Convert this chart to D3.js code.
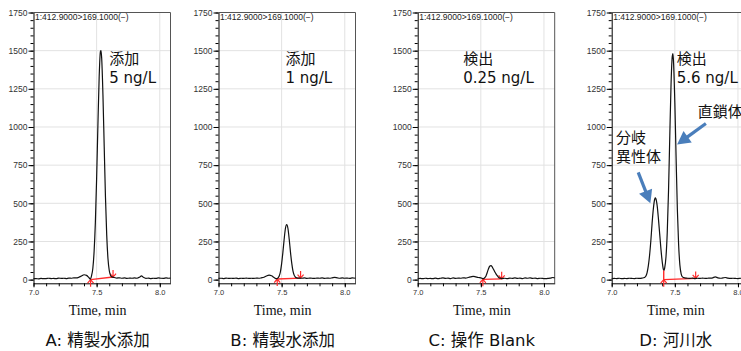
<!DOCTYPE html>
<html>
<head>
<meta charset="utf-8">
<script src="https://cdn.jsdelivr.net/npm/d3@7"></script>
<style>
  body { margin: 0; background: #fff; }
  svg { display: block; }
</style>
</head>
<body>
<div id="chart"></div>
<script>
// tick values and labels
var yTicks = [0, 250, 500, 750, 1000, 1250, 1500, 1750];
var xTicks = [7.0, 7.5, 8.0];
var headerText = "1:412.9000>169.1000(\u2212)";
var axisTitle = "Time, min";
var captions = ["A: 精製水添加", "B: 精製水添加", "C: 操作 Blank", "D: 河川水"];
var notes = [["添加", "5 ng/L"], ["添加", "1 ng/L"], ["検出", "0.25 ng/L"], ["検出", "5.6 ng/L"]];
var noteTime = [7.60, 7.53, 7.36, 7.515];

// chromatograms [time, intensity]
var traceA = [[7.00,6],[7.02,7],[7.04,5],[7.06,8],[7.08,6],[7.10,7],[7.12,9],[7.14,7],[7.16,8],[7.18,6],[7.20,10],[7.22,8],[7.24,9],[7.26,7],[7.28,10],[7.30,9],[7.32,12],[7.34,11],[7.36,16],[7.38,24],[7.40,32],[7.42,28],[7.44,12],[7.45,4],[7.46,27],[7.47,75],[7.48,185],[7.49,375],[7.50,665],[7.51,1010],[7.52,1325],[7.53,1495],[7.535,1500],[7.54,1450],[7.55,1210],[7.56,870],[7.57,540],[7.58,290],[7.59,135],[7.60,60],[7.61,28],[7.62,18],[7.64,14],[7.66,10],[7.68,12],[7.70,9],[7.72,11],[7.74,8],[7.76,10],[7.78,9],[7.80,11],[7.82,9],[7.84,16],[7.855,25],[7.87,15],[7.89,8],[7.91,10],[7.93,7],[7.95,9],[7.97,8],[7.99,12],[8.01,9],[8.03,8],[8.05,11],[8.07,9],[8.085,10]];
var traceB = [[7.00,8],[7.02,9],[7.04,7],[7.06,10],[7.08,8],[7.10,9],[7.12,8],[7.14,10],[7.16,7],[7.18,9],[7.20,8],[7.22,10],[7.24,8],[7.26,9],[7.28,8],[7.30,10],[7.32,9],[7.34,12],[7.36,16],[7.38,24],[7.40,29],[7.42,25],[7.44,14],[7.46,6],[7.47,10],[7.48,22],[7.49,50],[7.50,105],[7.51,180],[7.52,265],[7.53,335],[7.54,360],[7.55,335],[7.56,265],[7.57,180],[7.58,108],[7.59,56],[7.60,28],[7.61,16],[7.62,12],[7.64,10],[7.66,9],[7.68,11],[7.70,8],[7.72,10],[7.74,9],[7.76,8],[7.78,10],[7.80,9],[7.82,11],[7.84,8],[7.86,10],[7.88,9],[7.90,12],[7.92,15],[7.94,12],[7.96,9],[7.98,11],[8.00,9],[8.02,10],[8.04,8],[8.06,11],[8.085,9]];
var traceC = [[7.00,6],[7.02,8],[7.04,6],[7.06,9],[7.08,7],[7.10,8],[7.12,6],[7.14,10],[7.16,7],[7.18,9],[7.20,12],[7.22,8],[7.24,10],[7.26,7],[7.28,11],[7.30,8],[7.32,10],[7.34,9],[7.36,12],[7.38,10],[7.40,14],[7.42,18],[7.44,22],[7.46,18],[7.48,14],[7.50,12],[7.52,6],[7.53,12],[7.54,22],[7.55,45],[7.56,70],[7.57,88],[7.58,92],[7.59,84],[7.60,68],[7.61,52],[7.62,38],[7.63,26],[7.64,16],[7.65,10],[7.67,7],[7.69,9],[7.71,6],[7.73,10],[7.75,8],[7.77,11],[7.79,8],[7.81,10],[7.83,7],[7.85,11],[7.87,9],[7.89,12],[7.91,8],[7.93,10],[7.95,7],[7.97,9],[7.99,8],[8.01,6],[8.03,8],[8.05,10],[8.07,14],[8.085,12]];
var traceD = [[7.00,6],[7.02,8],[7.04,7],[7.06,9],[7.08,6],[7.10,8],[7.12,7],[7.14,9],[7.16,8],[7.18,7],[7.20,9],[7.22,8],[7.24,10],[7.26,14],[7.27,22],[7.28,45],[7.29,90],[7.30,160],[7.31,255],[7.32,370],[7.33,465],[7.34,525],[7.345,535],[7.35,530],[7.36,485],[7.37,400],[7.38,300],[7.39,200],[7.40,118],[7.41,66],[7.415,62],[7.42,78],[7.43,150],[7.44,310],[7.45,580],[7.46,940],[7.47,1280],[7.48,1465],[7.485,1480],[7.49,1420],[7.50,1160],[7.51,800],[7.52,460],[7.53,230],[7.54,95],[7.55,38],[7.56,18],[7.58,11],[7.60,9],[7.62,8],[7.64,10],[7.66,7],[7.68,9],[7.70,8],[7.72,10],[7.74,8],[7.76,9],[7.78,10],[7.80,12],[7.82,18],[7.84,12],[7.86,9],[7.88,11],[7.90,14],[7.92,10],[7.94,8],[7.96,9],[7.98,8],[8.00,7],[8.02,9],[8.04,8],[8.06,10],[8.085,9]];
var traces = [traceA, traceB, traceC, traceD];

// integration baselines: [start, end]
var integA = [[7.452, 0], [7.63, 17]];
var integB = [[7.465, 4], [7.65, 10]];
var integC = [[7.516, 2], [7.665, 5]];
var integD = [[7.412, 0], [7.665, 8]];
var integs = [integA, integB, integC, integD];
var dropD = 62; // valley height for the drop line in D

// blue arrows in panel D: [tail, tip]
var arrowsD = [[[7.746, 1023], [7.518, 886]], [[7.21, 703], [7.306, 500]]];
var labelsD = [{t: 7.682, v: 1063, lines: ["直鎖体"]}, {t: 7.034, v: 892, lines: ["分岐", "異性体"]}];

var width = 741,
    height = 351,
    panelLeft = [33.5, 218.5, 417.7, 611.7],
    plotW = 137,
    yTop = 12.5,
    yBottom = 283.3;

var svg = d3.select("#chart").append("svg")
    .attr("width", width)
    .attr("height", height);

var x = d3.scaleLinear().domain([7.0, 8.085]).range([0, plotW]);
var y = d3.scaleLinear().domain([-24, 1750]).range([yBottom, yTop]);

var line = d3.line()
    .x(function (d) { return x(d[0]); })
    .y(function (d) { return y(d[1]); })
    .curve(d3.curveMonotoneX);

var sansJP = "'DejaVu Sans', 'Noto Sans CJK JP', sans-serif";
var smallFont = "'Liberation Sans', Arial, sans-serif";

traces.forEach(function (trace, i) {
    var g = svg.append("g").attr("transform", "translate(" + panelLeft[i] + ",0)");

    // grid
    g.selectAll(".hgrid").data(yTicks.slice(1, -1)).enter().append("line")
        .attr("x1", 0).attr("x2", plotW)
        .attr("y1", function (d) { return y(d); }).attr("y2", function (d) { return y(d); })
        .attr("stroke", "#e2e2e2").attr("stroke-width", 1);
    g.selectAll(".vgrid").data(xTicks.slice(1)).enter().append("line")
        .attr("x1", function (d) { return x(d); }).attr("x2", function (d) { return x(d); })
        .attr("y1", yTop).attr("y2", yBottom)
        .attr("stroke", "#e2e2e2").attr("stroke-width", 1);

    // frame top/right
    g.append("path")
        .attr("d", "M0," + yTop + "H" + plotW + "V" + yBottom)
        .attr("fill", "none").attr("stroke", "#555").attr("stroke-width", 1);

    // y axis
    var yMinor = g.append("g").call(d3.axisLeft(y)
        .tickValues(d3.range(0, 1751, 50)).tickSize(3).tickSizeOuter(0).tickFormat(""));
    yMinor.select(".domain").remove();
    var yAxis = g.append("g").call(d3.axisLeft(y)
        .tickValues(yTicks).tickSize(5).tickSizeOuter(0).tickPadding(1).tickFormat(d3.format("d")));
    yAxis.selectAll("text").attr("font-family", smallFont)
        .attr("font-size", 8.5).attr("fill", "#333");

    // x axis
    var xg = g.append("g").attr("transform", "translate(0," + yBottom + ")");
    var xMinor = xg.append("g").call(d3.axisBottom(x)
        .tickValues(d3.range(7.0, 8.05, 0.1)).tickSize(3).tickSizeOuter(0).tickFormat(""));
    xMinor.select(".domain").remove();
    var xAxis = xg.append("g").call(d3.axisBottom(x)
        .tickValues(xTicks).tickSize(4).tickSizeOuter(0).tickPadding(2).tickFormat(d3.format(".1f")));
    xAxis.selectAll("text").attr("font-family", smallFont)
        .attr("font-size", 7.5).attr("fill", "#333");

    // header
    g.append("text")
        .attr("x", 1.5).attr("y", yTop + 7.5)
        .attr("font-family", smallFont)
        .attr("font-size", 8.5).attr("fill", "#222")
        .text(headerText);

    // integration baseline
    var integ = integs[i];
    var red = "#ff2a2a";
    var p0 = [x(integ[0][0]), y(integ[0][1])],
        p1 = [x(integ[1][0]), y(integ[1][1])];
    if (i === 3) {
        g.append("line")
            .attr("x1", p0[0]).attr("x2", p0[0])
            .attr("y1", p0[1]).attr("y2", y(dropD))
            .attr("stroke", red).attr("stroke-width", 1.4);
    }
    g.append("line")
        .attr("x1", p0[0]).attr("y1", p0[1]).attr("x2", p1[0]).attr("y2", p1[1])
        .attr("stroke", red).attr("stroke-width", 1.4);
    // start marker: arrow pointing up, tip at baseline
    g.append("path")
        .attr("d", "M" + p0[0] + "," + (p0[1] + 7) + "V" + p0[1] +
            "M" + (p0[0] - 3) + "," + (p0[1] + 3.5) + "L" + p0[0] + "," + p0[1] + "L" + (p0[0] + 3) + "," + (p0[1] + 3.5))
        .attr("fill", "none").attr("stroke", red).attr("stroke-width", 1.2);
    // end marker: arrow pointing down, tip at baseline
    g.append("path")
        .attr("d", "M" + p1[0] + "," + (p1[1] - 7) + "V" + p1[1] +
            "M" + (p1[0] - 3) + "," + (p1[1] - 3.5) + "L" + p1[0] + "," + p1[1] + "L" + (p1[0] + 3) + "," + (p1[1] - 3.5))
        .attr("fill", "none").attr("stroke", red).attr("stroke-width", 1.2);

    // trace
    g.append("path")
        .datum(trace)
        .attr("d", line)
        .attr("fill", "none")
        .attr("stroke", "#111")
        .attr("stroke-width", 1.2);

    // concentration note
    var note = g.append("text")
        .attr("x", x(noteTime[i])).attr("y", y(1410))
        .attr("font-family", sansJP).attr("font-size", 15).attr("fill", "#111");
    note.selectAll("tspan").data(notes[i]).enter().append("tspan")
        .attr("x", x(noteTime[i]))
        .attr("dy", function (d, k) { return k ? 19 : 0; })
        .text(function (d) { return d; });

    // x axis title
    g.append("text")
        .attr("x", x(7.5) + 1).attr("y", 315)
        .attr("text-anchor", "middle")
        .attr("font-family", "'Liberation Serif', 'Times New Roman', serif")
        .attr("font-size", 14).attr("fill", "#111")
        .text(axisTitle);

    // caption
    g.append("text")
        .attr("x", x(7.5) + 1).attr("y", 346)
        .attr("text-anchor", "middle")
        .attr("font-family", sansJP)
        .attr("font-size", 16.5).attr("fill", "#111")
        .text(captions[i]);

    if (i === 3) {
        // isomer labels
        labelsD.forEach(function (lab) {
            var t = g.append("text")
                .attr("x", x(lab.t)).attr("y", y(lab.v))
                .attr("font-family", sansJP).attr("font-size", 15).attr("fill", "#111");
            t.selectAll("tspan").data(lab.lines).enter().append("tspan")
                .attr("x", x(lab.t))
                .attr("dy", function (d, k) { return k ? 19 : 0; })
                .text(function (d) { return d; });
        });
        // blue arrows
        var blue = "#4a7ebb";
        arrowsD.forEach(function (a) {
            var x0 = x(a[0][0]), y0 = y(a[0][1]), x1 = x(a[1][0]), y1 = y(a[1][1]);
            var dx = x1 - x0, dy = y1 - y0, len = Math.sqrt(dx * dx + dy * dy);
            var ux = dx / len, uy = dy / len, head = 13, half = 7;
            var bx = x1 - ux * head, by = y1 - uy * head;
            g.append("line")
                .attr("x1", x0).attr("y1", y0).attr("x2", bx + ux).attr("y2", by + uy)
                .attr("stroke", blue).attr("stroke-width", 3.2);
            g.append("path")
                .attr("d", "M" + x1 + "," + y1 +
                    "L" + (bx - uy * half) + "," + (by + ux * half) +
                    "L" + (bx + uy * half) + "," + (by - ux * half) + "Z")
                .attr("fill", blue);
        });
    }
});
</script>
</body>
</html>
